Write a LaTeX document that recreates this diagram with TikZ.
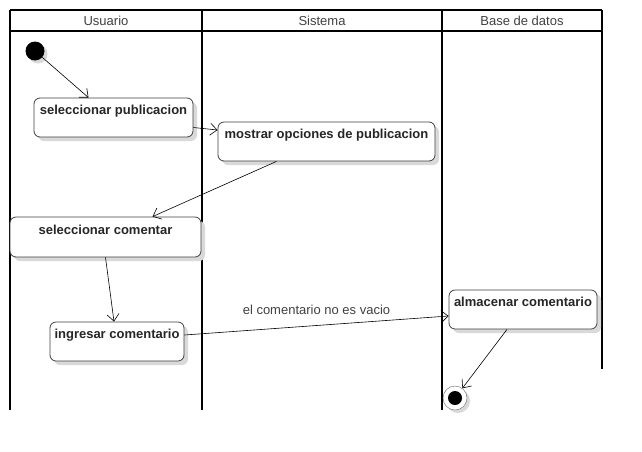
\documentclass[tikz,border=0pt]{standalone}
\usepackage{fontspec}
\setmainfont{Liberation Sans}
\usetikzlibrary{arrows.meta,shadows}
\tikzstyle{activity}=[rectangle, draw=black!75, fill=white, rounded corners=6pt, thick,
    font=\bfseries\fontsize{13}{15}\selectfont, text=black!85,
    text height=8pt, text depth=14pt, inner xsep=2pt, inner ysep=0pt,
    drop shadow={fill=black!15, opacity=1, shadow xshift=4pt, shadow yshift=-4pt}]
\tikzstyle{lane}=[draw, line width=1.8pt]
\tikzstyle{lanehead}=[font=\fontsize{13}{15}\selectfont, text=black!75]
\newcommand{\activity}{\node[activity]}

\begin{document}
\begin{tikzpicture}[x=1pt, y=-1pt
    ,every edge/.style={draw, line width=0.6pt, -{Straight Barb[length=7pt,width=12pt,line width=0.6pt]}}
]
\useasboundingbox (0,0) rectangle (642,451);
% swimlanes
\path[lane] (10,10) -- (602,10) (10,31) -- (602,31)
    (10,10) -- (10,410) (202,10) -- (202,410)
    (442,10) -- (442,410) (602,10) -- (602,369);
\node[lanehead] (usuario) at (106,21) {Usuario};
\node[lanehead] (sistema) at (322,21) {Sistema};
\node[lanehead] (bd) at (522,21) {Base de datos};
% states
\node[circle, fill=black, minimum size=19pt, inner sep=0pt,
    drop shadow={fill=black!15, opacity=1, shadow xshift=3pt, shadow yshift=-3pt}] (inicio) at (35,51) {};
\activity[minimum width=159pt, minimum height=39pt] (selpub) at (113.5,117.5) {seleccionar publicacion};
\activity[minimum width=217pt, minimum height=39pt] (mostrar) at (326.5,141.5) {mostrar opciones de publicacion};
\activity[minimum width=191pt, minimum height=40pt] (selcom) at (105.5,237) {seleccionar comentar};
\activity[minimum width=134pt, minimum height=39pt] (ingresar) at (117,341.5) {ingresar comentario};
\activity[minimum width=148pt, minimum height=39pt] (almacenar) at (523,309.5) {almacenar comentario};
\node[circle, draw=black!60, fill=white, minimum size=24pt, inner sep=0pt,
    drop shadow={fill=black!15, opacity=1, shadow xshift=3pt, shadow yshift=-3pt},
    path picture={\fill[black] (path picture bounding box.center) circle (7pt);}] (fin) at (455,398) {};
\path
(inicio) edge ([xshift=-25pt]selpub.north)
([yshift=-10pt]selpub.east) edge ([yshift=11.5pt]mostrar.west)
([xshift=-50pt]mostrar.south) edge ([xshift=47pt]selcom.north)
(selcom.south) edge ([xshift=-3pt]ingresar.north)
([yshift=6.5pt]ingresar.east) edge node[above, pos=0.5, yshift=7pt, font=\fontsize{13}{15}\selectfont, text=black!75] {el comentario no es vacio} ([yshift=-6.5pt]almacenar.west)
([xshift=-16pt]almacenar.south) edge (fin)
;
\end{tikzpicture}
\end{document}
